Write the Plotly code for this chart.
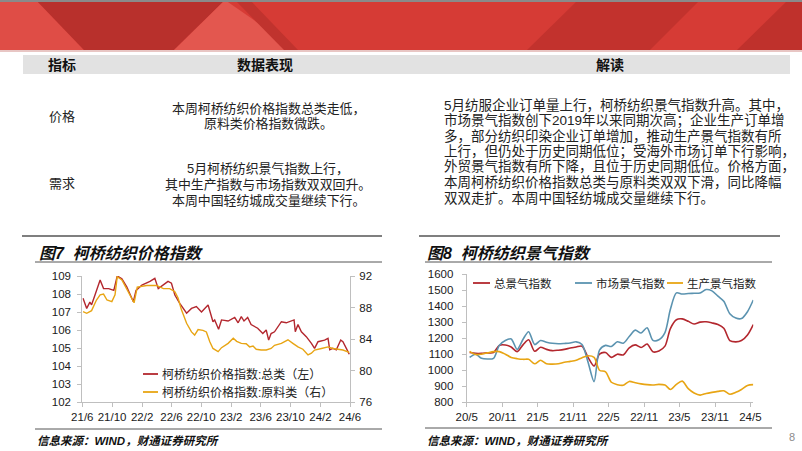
import plotly.graph_objects as go

W, H = 802, 451
def px(x): return x / W
def py(y): return 1 - y / H

# ---------------- data ----------------
price_total_dates = ["2021-06-04","2021-06-19","2021-07-02","2021-07-09","2021-07-23","2021-08-13","2021-08-27","2021-09-17","2021-10-08","2021-10-22","2021-11-10","2021-11-30","2021-12-13","2021-12-27","2022-01-07","2022-01-31","2022-03-05","2022-03-25","2022-04-08","2022-04-29","2022-05-18","2022-06-01","2022-06-15","2022-07-05","2022-08-02","2022-08-22","2022-09-11","2022-10-02","2022-10-29","2022-11-18","2022-11-25","2022-12-11","2022-12-23","2023-01-19","2023-02-15","2023-03-01","2023-03-14","2023-03-25","2023-04-09","2023-04-23","2023-05-20","2023-06-10","2023-06-24","2023-07-04","2023-07-14","2023-07-28","2023-08-11","2023-08-25","2023-09-14","2023-10-05","2023-10-16","2023-10-21","2023-11-01","2023-11-15","2023-12-05","2023-12-26","2024-01-08","2024-01-22","2024-02-18","2024-03-03","2024-03-10","2024-03-23","2024-04-06","2024-04-24","2024-05-03","2024-05-17","2024-05-29"]
price_total = [107.76,107.2,107.55,107.4,107.94,108.78,108.3,108.3,108.2,109.0,108.85,108.4,108.0,107.57,108.2,108.5,108.7,108.87,108.3,108.5,108.7,108.6,107.94,107.48,106.93,107.2,107.3,107.0,107.39,106.46,106.56,106.04,106.56,106.5,106.7,106.4,106.74,106.5,106.7,106.3,106.1,105.8,106.0,105.44,105.8,105.9,106.2,106.46,106.4,106.5,106.56,105.9,106.3,105.9,105.63,105.26,104.98,105.35,105.44,105.54,104.9,104.98,104.9,105.44,105.35,104.98,104.65]

price_raw_dates = ["2021-06-04","2021-06-19","2021-07-09","2021-07-29","2021-08-13","2021-08-27","2021-09-10","2021-09-30","2021-10-13","2021-10-22","2021-11-10","2021-11-30","2021-12-13","2021-12-30","2022-01-12","2022-02-20","2022-04-01","2022-04-29","2022-05-25","2022-06-15","2022-06-28","2022-07-12","2022-08-02","2022-08-22","2022-09-04","2022-09-18","2022-10-08","2022-10-22","2022-11-05","2022-11-18","2022-12-09","2022-12-23","2023-01-19","2023-02-09","2023-02-23","2023-03-14","2023-04-03","2023-04-17","2023-05-01","2023-05-14","2023-06-03","2023-06-24","2023-07-14","2023-07-28","2023-08-25","2023-09-21","2023-10-11","2023-11-01","2023-11-21","2023-12-12","2023-12-26","2024-01-08","2024-02-05","2024-03-03","2024-03-23","2024-04-13","2024-05-03","2024-05-29"]
price_raw = [87.47,87.26,87.6,88.95,89.6,89.7,88.95,88.74,89.6,91.9,91.5,90.4,89.6,88.6,90.6,90.8,90.8,90.4,90.4,90.0,89.2,87.7,86.0,84.9,84.5,85.2,85.1,84.9,83.66,82.8,82.4,82.9,83.45,84.1,83.7,83.45,83.4,83.0,83.1,82.7,82.6,82.6,82.8,83.2,83.45,83.9,83.45,83.0,82.7,81.97,82.2,82.6,82.8,83.0,82.8,82.7,82.6,82.3]

price_tick_dates = ["2021-06-01","2021-10-01","2022-02-01","2022-06-01","2022-10-01","2023-02-01","2023-06-01","2023-10-01","2024-02-01","2024-06-01"]
price_tick_labels = ["21/6","21/10","22/2","22/6","22/10","23/2","23/6","23/10","24/2","24/6"]

prosp_dates = ["2020-05-16","2020-06-16","2020-07-16","2020-08-16","2020-09-16","2020-10-16","2020-11-16","2020-12-16",
               "2021-01-16","2021-02-16","2021-03-16","2021-04-16","2021-05-16","2021-06-16","2021-07-16","2021-08-16","2021-09-16","2021-10-16","2021-11-16","2021-12-16",
               "2022-01-16","2022-02-16","2022-03-16","2022-04-16","2022-05-16","2022-06-16","2022-07-16","2022-08-16","2022-09-16","2022-10-16","2022-11-16","2022-12-16",
               "2023-01-16","2023-02-16","2023-03-16","2023-04-16","2023-05-16","2023-06-16","2023-07-16","2023-08-16","2023-09-16","2023-10-16","2023-11-16","2023-12-16",
               "2024-01-16","2024-02-16","2024-03-16","2024-04-16","2024-05-16"]
prosp_total = [1110,1105,1105,1108,1110,1155,1157,1145,1116,1160,1190,1118,1143,1130,1122,1125,1130,1138,1145,1150,1080,1026,1100,1110,1080,1100,1095,1140,1158,1142,1163,1115,1120,1150,1260,1315,1320,1305,1288,1300,1302,1295,1285,1262,1185,1177,1185,1220,1285]
prosp_market = [1080,1100,1074,1070,1074,1155,1185,1195,1130,1195,1240,1160,1185,1175,1168,1165,1167,1170,1177,1160,1050,929,1125,1155,1148,1177,1168,1210,1250,1232,1265,1186,1190,1235,1380,1482,1475,1478,1480,1482,1503,1495,1462,1430,1352,1325,1322,1365,1438]
prosp_prod = [1118,1098,1100,1108,1116,1116,1100,1080,1072,1068,1068,1040,1062,1040,1038,1040,1050,1055,1062,1078,1090,1080,1000,990,925,910,906,930,922,915,910,908,912,908,880,912,932,885,858,845,855,862,868,872,850,862,880,905,910]

prosp_tick_dates = ["2020-05-01","2020-11-01","2021-05-01","2021-11-01","2022-05-01","2022-11-01","2023-05-01","2023-11-01","2024-05-01"]
prosp_tick_labels = ["20/5","20/11","21/5","21/11","22/5","22/11","23/5","23/11","24/5"]

name_total = "柯桥纺织价格指数:总类（左）"
name_raw = "柯桥纺织价格指数:原料类（右）"
name_p1, name_p2, name_p3 = "总景气指数", "市场景气指数", "生产景气指数"

C_RED = "#b3272e"
C_GOLD = "#e8a514"
C_BLUE = "#5b93b0"
AX = "#bfbfbf"
FONT = "Liberation Sans, Noto Sans CJK SC, sans-serif"

fig = go.Figure()
fig.add_trace(go.Scatter(x=price_total_dates, y=price_total, mode="lines", name=name_total,
                         line=dict(color=C_RED, width=1.4), xaxis="x", yaxis="y"))
fig.add_trace(go.Scatter(x=price_raw_dates, y=price_raw, mode="lines", name=name_raw,
                         line=dict(color=C_GOLD, width=1.4), xaxis="x", yaxis="y2"))
fig.add_trace(go.Scatter(x=prosp_dates, y=prosp_total, mode="lines", name=name_p1,
                         line=dict(color=C_RED, width=1.6, shape="spline", smoothing=0.8), xaxis="x3", yaxis="y3"))
fig.add_trace(go.Scatter(x=prosp_dates, y=prosp_market, mode="lines", name=name_p2,
                         line=dict(color=C_BLUE, width=1.6, shape="spline", smoothing=0.8), xaxis="x3", yaxis="y3"))
fig.add_trace(go.Scatter(x=prosp_dates, y=prosp_prod, mode="lines", name=name_p3,
                         line=dict(color=C_GOLD, width=1.6, shape="spline", smoothing=0.8), xaxis="x3", yaxis="y3"))

tick_font = dict(family=FONT, size=11.5, color="#1a1a1a")
axcommon = dict(showgrid=False, zeroline=False, showline=True, linecolor=AX, linewidth=1,
                ticks="outside", ticklen=4, tickcolor=AX, tickfont=tick_font, automargin=False)

shapes = []
ann = []

def text(t, x, y, size, anchor="left", color="#222"):
    ann.append(dict(text=t, x=px(x), y=py(y), xref="paper", yref="paper", showarrow=False,
                    xanchor=anchor, yanchor="middle", font=dict(family=FONT, size=size, color=color)))

# ---- banner ----
def poly(pts, color):
    d = "M " + " L ".join(f"{px(x)},{py(y)}" for x, y in pts) + " Z"
    shapes.append(dict(type="path", path=d, xref="paper", yref="paper", fillcolor=color, line=dict(width=0), layer="below"))

poly([(0, 0), (802, 0), (802, 50), (0, 50)], "#d63b35")
poly([(0, 0), (36, 0), (84, 50), (0, 50)], "#df4d46")
poly([(36, 0), (225, 0), (174, 50), (84, 50)], "#b8302c")
poly([(225, 0), (297, 50), (174, 50)], "#e3574f")
poly([(235, 0), (250, 0), (298, 50), (284, 50)], "#c0332e")
poly([(578, 0), (700, 0), (650, 50), (527, 50)], "#c2322d")
poly([(788, 0), (802, 0), (802, 50), (737, 50)], "#bf312c")
poly([(0, 0), (802, 0), (802, 2), (0, 2)], "#8a8a8a")
poly([(0, 50), (802, 50), (802, 52), (0, 52)], "#e8c6c4")

# ---- table ----
poly([(23, 55), (790, 55), (790, 74), (23, 74)], "#e2e2e2")
for t, x in [("指标", 62), ("数据表现", 265), ("解读", 610)]:
    text(f"<b>{t}</b>", x, 65, 14, "center", "#111")

text("价格", 62, 116, 13, "center")
text("需求", 62, 183, 13, "center")
mid_lines = [("本周柯桥纺织价格指数总类走低，", 108.3), ("原料类价格指数微跌。", 124),
             ("5月柯桥纺织景气指数上行，", 168.3), ("其中生产指数与市场指数双双回升。", 184),
             ("本周中国轻纺城成交量继续下行。", 200.7)]
for t, y in mid_lines:
    text(t, 268, y, 12.9, "center")
right_lines = ["5月纺服企业订单量上行，柯桥纺织景气指数升高。其中，",
               "市场景气指数创下2019年以来同期次高；企业生产订单增",
               "多，部分纺织印染企业订单增加，推动生产景气指数有所",
               "上行，但仍处于历史同期低位；受海外市场订单下行影响，",
               "外贸景气指数有所下降，且位于历史同期低位。价格方面，",
               "本周柯桥纺织价格指数总类与原料类双双下滑，同比降幅",
               "双双走扩。本周中国轻纺城成交量继续下行。"]
right_y = [105, 120.5, 136, 151.7, 166.9, 182.7, 198.3]
for t, y in zip(right_lines, right_y):
    text(t, 442, y, 13.5, "left")

# ---- chart frames ----
def hline(x0, x1, y, color, w):
    shapes.append(dict(type="line", xref="paper", yref="paper", x0=px(x0), x1=px(x1), y0=py(y), y1=py(y),
                       line=dict(color=color, width=w)))

hline(22, 382, 236, "#7f7f7f", 2)
hline(419, 780, 236, "#7f7f7f", 2)
hline(35, 382, 262, "#555", 1)
hline(425, 772, 262, "#555", 1)
hline(35, 382, 429, "#555", 1)
hline(425, 772, 428, "#555", 1)

text("<b><i>图7  柯桥纺织价格指数</i></b>", 37, 253, 16, "left", "#111")
text("<b><i>图8  柯桥纺织景气指数</i></b>", 425, 253, 16, "left", "#111")
for x in (35, 425):
    text("<b><i>信息来源：WIND，财通证券研究所</i></b>", x, 441, 11.5, "left", "#111")
text("8", 792, 437, 11, "center", "#8c8c8c")

# ---- manual legends ----
def legend_item(x0, x1, y, color, t, size):
    shapes.append(dict(type="line", xref="paper", yref="paper", x0=px(x0), x1=px(x1), y0=py(y), y1=py(y),
                       line=dict(color=color, width=1.8)))
    text(t, x1 + 2, y, size, "left")

legend_item(143, 158, 374, C_RED, name_total, 12)
legend_item(143, 158, 392, C_GOLD, name_raw, 12)
legend_item(473, 490, 283, C_RED, name_p1, 11.5)
legend_item(575, 592, 283, C_BLUE, name_p2, 11.5)
legend_item(667, 683, 283, C_GOLD, name_p3, 11.5)

fig.update_layout(
    width=W, height=H, margin=dict(l=0, r=0, t=0, b=0, pad=0, autoexpand=False),
    paper_bgcolor="white", plot_bgcolor="rgba(0,0,0,0)",
    showlegend=False, font=dict(family=FONT), hovermode=False,
    shapes=shapes, annotations=ann,
    xaxis=dict(axcommon, type="date", domain=[px(82.3), px(350)], anchor="y",
               range=["2021-06-01", "2024-06-01"], tickmode="array",
               tickvals=price_tick_dates, ticktext=price_tick_labels),
    yaxis=dict(axcommon, domain=[py(402), py(276)], anchor="x", range=[102, 109], dtick=1,
               tickmode="linear", tick0=102, ticklabelstandoff=4),
    yaxis2=dict(axcommon, domain=[py(402), py(276)], anchor="x", overlaying="y", side="right",
                range=[76, 92], dtick=4, tickmode="linear", tick0=76, ticklabelstandoff=2),
    xaxis3=dict(axcommon, type="date", domain=[px(466.7), px(753.3)], anchor="y3",
                range=["2020-05-01", "2024-05-16"], tickmode="array",
                tickvals=prosp_tick_dates, ticktext=prosp_tick_labels),
    yaxis3=dict(axcommon, domain=[py(402.3), py(274)], anchor="x3", range=[800, 1600], dtick=100,
                tickmode="linear", tick0=800, ticklabelstandoff=6),
)

fig.write_html("out.html", config={"displayModeBar": False, "staticPlot": True},
               post_script="document.body.style.margin='0';document.body.style.padding='0';document.body.style.overflow='hidden';")
